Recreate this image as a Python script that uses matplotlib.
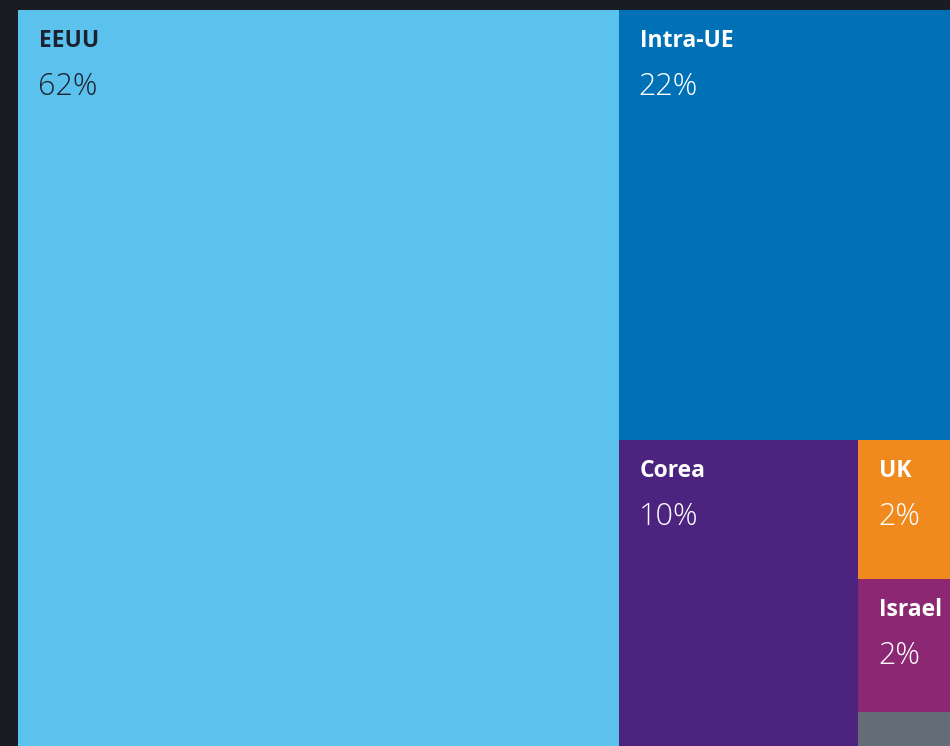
import matplotlib
matplotlib.use("Agg")
import matplotlib.pyplot as plt
from matplotlib.patches import Rectangle

# shares of exports by destination (%)
regions = ["EEUU", "Intra-UE", "Corea", "UK", "Israel", "Otros"]
shares = [62.2, 22.1, 10.3, 2.45, 2.35, 0.6]
colors = ["#5bc2ee", "#0071b6", "#4c2480", "#f08a1f", "#8c2873", "#646c77"]
text_colors = ["#1e2230", "white", "white", "white", "white", "white"]

BG = "#1a1c24"
DPI = 100
FIG_W, FIG_H = 950, 746
# treemap canvas in pixels; it runs past the right edge of the figure
MAP_X, MAP_W, MAP_H = 18, 966, 736
FONT = ["Open Sans", "DejaVu Sans"]


def worst(row, side):
    s = sum(row)
    return max(max(side * side * r / (s * s), s * s / (side * side * r)) for r in row)


def squarify(values, x, y, w, h):
    """Squarified treemap (Bruls et al.), values already scaled to area."""
    rects = []
    vals = list(values)
    while vals:
        side = min(w, h)
        row = [vals.pop(0)]
        while vals and worst(row + [vals[0]], side) <= worst(row, side):
            row.append(vals.pop(0))
        s = sum(row)
        if w >= h:
            # column on the left
            cw = s / h
            cy = y
            for r in row:
                rh = r / cw
                rects.append((x, cy, cw, rh))
                cy += rh
            x += cw
            w -= cw
        else:
            # row along the top
            rh = s / w
            cx = x
            for r in row:
                rw = r / rh
                rects.append((cx, y, rw, rh))
                cx += rw
            y += rh
            h -= rh
    return rects


total = sum(shares)
areas = [v / total * MAP_W * MAP_H for v in shares]
rects = squarify(areas, 0, 0, MAP_W, MAP_H)

fig = plt.figure(figsize=(FIG_W / DPI, FIG_H / DPI), dpi=DPI, facecolor=BG)
ax = fig.add_axes([MAP_X / FIG_W, 0, MAP_W / FIG_W, MAP_H / FIG_H])
ax.set_xlim(0, MAP_W)
ax.set_ylim(MAP_H, 0)
ax.axis("off")

for name, val, col, tc, (x, y, w, h) in zip(regions, shares, colors,
                                            text_colors, rects):
    ax.add_patch(Rectangle((x, y), w, h, facecolor=col, edgecolor="none"))
    if h < 60:
        continue
    ax.text(x + 21, y + 19, name, color=tc, fontsize=16.5, fontweight="bold",
            family=FONT, va="top", ha="left")
    ax.text(x + 20, y + 85, f"{round(val)}%", color=tc, fontsize=22,
            fontweight="light", family=FONT, va="baseline", ha="left")

fig.savefig("out.png", dpi=DPI, facecolor=BG)
